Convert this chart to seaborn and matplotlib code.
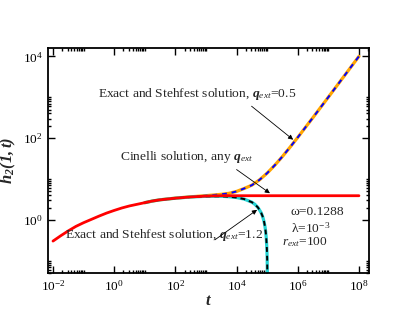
import numpy as np
import pandas as pd
import matplotlib
matplotlib.use("Agg")
import matplotlib.pyplot as plt
from matplotlib.ticker import FixedLocator, FuncFormatter, NullFormatter
import seaborn as sns

# --- data (t, h2(1,t)) ---
t_cinelli = [0.01, 0.0178, 0.0316, 0.0562, 0.1, 0.178, 0.316, 0.562, 1.0, 1.78,
             3.16, 5.62, 10.0, 17.8, 31.6, 56.2, 100.0, 316.0, 1000.0, 3162.0,
             1e4, 1e5, 1e6, 1e7, 1e8]
h_cinelli = [0.302, 0.407, 0.537, 0.692, 0.851, 1.023, 1.230, 1.462, 1.698, 1.950,
             2.188, 2.399, 2.630, 2.884, 3.090, 3.236, 3.388, 3.631, 3.802, 3.890,
             3.89, 3.89, 3.89, 3.89, 3.89]

t_q05 = [10.0, 17.8, 31.6, 56.2, 100.0, 316.0, 1000.0, 1778.0, 3162.0, 5623.0,
         1e4, 17783.0, 31623.0, 56234.0, 1e5, 177828.0, 316228.0, 562341.0,
         1e6, 3.16e6, 1e7, 3.16e7, 1e8]
h_q05 = [2.630, 2.884, 3.090, 3.236, 3.40, 3.66, 3.90, 4.05, 4.21, 4.45,
         4.95, 5.85, 7.05, 9.51, 13.9, 21.7, 35.5, 60.1,
         104.0, 320.0, 1004.0, 3166.0, 10004.0]

t_q12 = [10.0, 17.8, 31.6, 56.2, 100.0, 316.0, 1000.0, 1778.0, 3162.0, 5623.0,
         1e4, 17783.0, 31623.0, 39811.0, 50119.0, 63096.0, 70795.0, 79433.0,
         85114.0, 89125.0, 93325.0, 97724.0, 100000.0, 102329.0]
h_q12 = [2.630, 2.884, 3.090, 3.236, 3.38, 3.62, 3.76, 3.77, 3.77, 3.68,
         3.51, 3.22, 2.70, 2.39, 2.00, 1.51, 1.22, 0.89,
         0.675, 0.524, 0.365, 0.199, 0.113, 0.025]

major_x = [1e-2, 1e0, 1e2, 1e4, 1e6, 1e8]
major_y = [1e-2, 1e0, 1e2, 1e4]

sns.set_theme(style="ticks")
plt.rcParams["font.family"] = ["Liberation Serif", "DejaVu Serif"]
plt.rcParams["mathtext.fontset"] = "custom"
plt.rcParams["mathtext.rm"] = "Liberation Serif"
plt.rcParams["mathtext.it"] = "Liberation Serif:italic"
plt.rcParams["mathtext.bf"] = "Liberation Serif:bold"
plt.rcParams["mathtext.bfit"] = "Liberation Serif:bold:italic"

fig = plt.figure(figsize=(4.15, 3.21), dpi=100)
ax = fig.add_axes([0.1157, 0.1495, 0.7733, 0.701])

sns.lineplot(x=t_q05, y=h_q05, ax=ax, color="orange", lw=2.3)
sns.lineplot(x=t_q05, y=h_q05, ax=ax, color="blue", lw=1.4, linestyle=(0, (2.5, 2.5)))
sns.lineplot(x=t_q12, y=h_q12, ax=ax, color="#22d3d3", lw=2.3)
sns.lineplot(x=t_q12, y=h_q12, ax=ax, color="black", lw=1.4, linestyle=(0, (2.5, 2.0)))
sns.lineplot(x=t_cinelli, y=h_cinelli, ax=ax, color="red", lw=2.0)

ax.set_xscale("log")
ax.set_yscale("log")
ax.set_xlim(6.87e-3, 2.12e8)
ax.set_ylim(0.05, 1.6e4)

def minor_ticks(majors):
    return [j * m for m in majors for j in range(2, 11)]

ax.xaxis.set_major_locator(FixedLocator(major_x))
ax.yaxis.set_major_locator(FixedLocator(major_y))
ax.xaxis.set_minor_locator(FixedLocator(minor_ticks(major_x)))
ax.yaxis.set_minor_locator(FixedLocator(minor_ticks(major_y)))
fmt = FuncFormatter(lambda v, p: r"$10^{%d}$" % round(np.log10(v)))
ax.xaxis.set_major_formatter(fmt)
ax.yaxis.set_major_formatter(fmt)
ax.xaxis.set_minor_formatter(NullFormatter())
ax.yaxis.set_minor_formatter(NullFormatter())

ax.tick_params(which="both", direction="in", top=True, right=True,
               colors="black", labelsize=9.5, width=1.0)
ax.tick_params(which="major", length=5, pad=4)
ax.tick_params(which="minor", length=2.5)
for s in ax.spines.values():
    s.set_linewidth(1.3)
    s.set_color("black")

ax.set_xlabel(r"$\mathbfit{t}$", fontsize=12, labelpad=0)
ax.set_ylabel(r"$\mathbfit{h_2(1,t)}$", fontsize=12, labelpad=3)

fs = 9.7
arrow = dict(arrowstyle="-|>", lw=0.6, color="black", mutation_scale=7,
             shrinkA=0, shrinkB=0)
ax.text(10**-0.53, 10**3.09, r"Exact and Stehfest solution, $\mathbfit{q}_{\mathit{ext}}$=0.5",
        fontsize=fs, va="center", ha="left")
ax.annotate("", xy=(10**5.85, 10**1.96), xytext=(10**4.49, 10**2.78), arrowprops=arrow)
ax.text(10**0.19, 10**1.54, r"Cinelli solution, any $\mathbfit{q}_{\mathit{ext}}$",
        fontsize=fs, va="center", ha="left")
ax.annotate("", xy=(10**5.09, 10**0.65), xytext=(10**4.0, 10**1.23), arrowprops=arrow)
ax.text(10**-1.61, 10**-0.37, r"Exact and Stehfest solution, $\mathbfit{q}_{\mathit{ext}}$=1.2",
        fontsize=fs, va="center", ha="left")
ax.annotate("", xy=(10**4.67, 10**0.245), xytext=(10**3.29, 10**-0.49), arrowprops=arrow)

ax.text(10**5.75, 10**0.18, "ω=0.1288", fontsize=fs, va="center", ha="left")
ax.text(10**5.78, 10**-0.2, r"λ=10$^{-3}$", fontsize=fs, va="center", ha="left")
ax.text(10**5.48, 10**-0.54, r"$\mathit{r}_{\mathit{ext}}$=100", fontsize=fs, va="center", ha="left")

fig.savefig("out.png", dpi=100)
